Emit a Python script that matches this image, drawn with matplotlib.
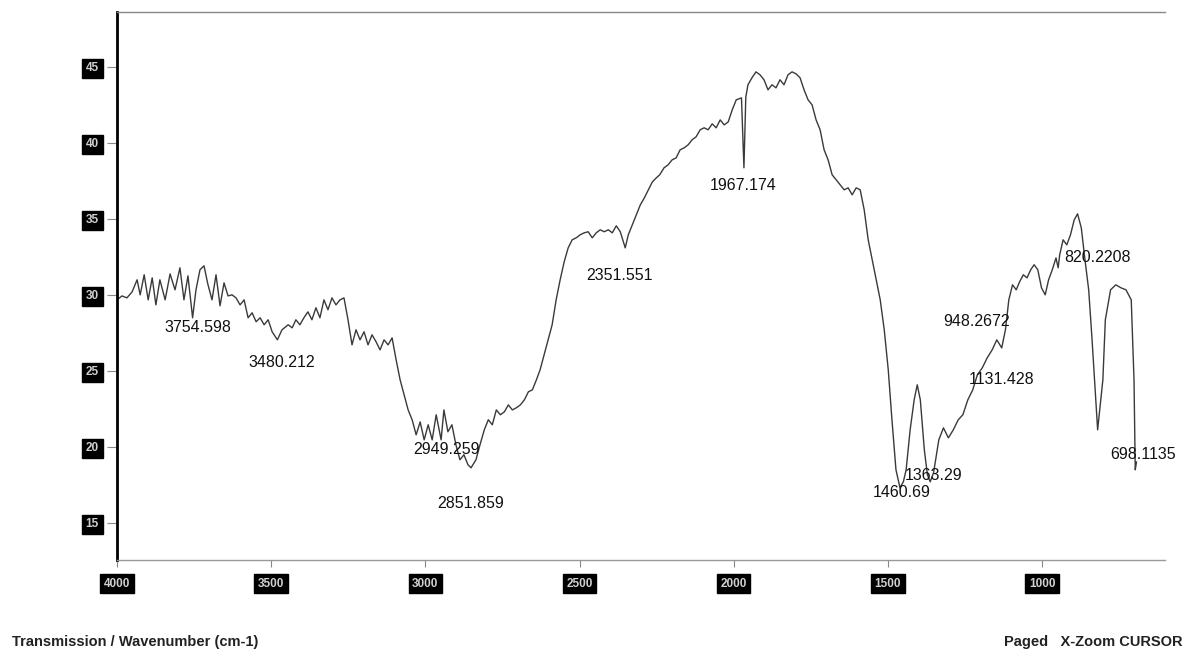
import matplotlib
matplotlib.use("Agg")
import matplotlib.pyplot as plt

# FTIR transmission spectrum (wavenumber in cm-1, transmission)
wavenumber = [
    4000, 3984, 3968, 3951, 3935, 3925, 3912, 3899, 3886, 3874, 3861, 3844,
    3828, 3812, 3796, 3783, 3770, 3755, 3744, 3731, 3718, 3705, 3692, 3679,
    3666, 3653, 3640, 3627, 3614, 3601, 3588, 3575, 3562, 3549, 3536, 3523,
    3510, 3497, 3480, 3465, 3445, 3432, 3420, 3407, 3394, 3381, 3368, 3355,
    3342, 3329, 3316, 3303, 3290, 3277, 3264, 3251, 3238, 3225, 3212, 3199,
    3186, 3173, 3160, 3147, 3134, 3121, 3108, 3095, 3082, 3069, 3056, 3043,
    3030, 3017, 3004, 2991, 2978, 2965, 2949, 2940, 2927, 2914, 2901, 2888,
    2875, 2862, 2852, 2836, 2823, 2809, 2796, 2783, 2770, 2757, 2744, 2731,
    2718, 2705, 2692, 2679, 2666, 2653, 2640, 2628, 2615, 2602, 2589, 2576,
    2563, 2550, 2537, 2524, 2511, 2498, 2485, 2472, 2459, 2446, 2433, 2420,
    2407, 2394, 2381, 2368, 2352, 2342, 2329, 2316, 2303, 2290, 2277, 2264,
    2251, 2240, 2226, 2213, 2200, 2187, 2174, 2161, 2148, 2135, 2122, 2109,
    2096, 2083, 2070, 2057, 2044, 2031, 2018, 2005, 1992, 1975, 1967, 1961,
    1954, 1941, 1928, 1915, 1902, 1889, 1876, 1863, 1850, 1837, 1824, 1811,
    1798, 1785, 1772, 1759, 1746, 1733, 1720, 1707, 1694, 1681, 1668, 1655,
    1642, 1629, 1616, 1603, 1590, 1577, 1564, 1551, 1538, 1525, 1512, 1499,
    1487, 1474, 1461, 1450, 1441, 1428, 1415, 1405, 1395, 1382, 1372, 1363,
    1352, 1335, 1320, 1304, 1288, 1272, 1257, 1241, 1225, 1210, 1194, 1178,
    1162, 1147, 1131, 1119, 1108, 1096, 1084, 1073, 1061, 1049, 1037, 1026,
    1014, 1002, 990, 979, 967, 955, 948, 943, 932, 920, 908, 896,
    885, 873, 861, 849, 838, 826, 820, 803, 795, 778, 761, 744,
    728, 711, 702, 698, 694,
]
transmission = [
    29.67, 29.93, 29.80, 30.20, 30.99, 30.00, 31.32, 29.67, 31.12, 29.34, 30.99, 29.67,
    31.38, 30.33, 31.78, 29.67, 31.25, 28.49, 30.33, 31.65, 31.91, 30.66, 29.67, 31.32,
    29.28, 30.79, 29.93, 30.00, 29.80, 29.34, 29.67, 28.49, 28.82, 28.23, 28.49, 28.03,
    28.36, 27.57, 27.04, 27.70, 28.03, 27.83, 28.36, 28.03, 28.49, 28.88, 28.36, 29.15,
    28.49, 29.67, 29.02, 29.80, 29.34, 29.67, 29.80, 28.36, 26.71, 27.70, 27.04, 27.57,
    26.71, 27.37, 26.91, 26.38, 27.04, 26.71, 27.17, 25.73, 24.41, 23.42, 22.43, 21.78,
    20.79, 21.64, 20.46, 21.45, 20.46, 22.11, 20.46, 22.43, 20.99, 21.45, 20.13, 19.15,
    19.48, 18.82, 18.62, 19.15, 20.13, 21.12, 21.78, 21.45, 22.43, 22.11, 22.30, 22.76,
    22.43, 22.57, 22.76, 23.09, 23.62, 23.75, 24.41, 25.07, 26.05, 27.04, 28.03, 29.67,
    30.99, 32.17, 33.09, 33.62, 33.75, 33.95, 34.08, 34.15, 33.75, 34.08, 34.28, 34.15,
    34.28, 34.08, 34.54, 34.15, 33.09, 33.95, 34.61, 35.26, 35.92, 36.38, 36.91, 37.43,
    37.70, 37.90, 38.36, 38.55, 38.88, 39.01, 39.54, 39.67, 39.87, 40.20, 40.40, 40.86,
    40.99, 40.86, 41.25, 40.99, 41.51, 41.18, 41.38, 42.17, 42.83, 42.96, 38.36, 43.00,
    43.82, 44.28, 44.67, 44.48, 44.15, 43.49, 43.82, 43.62, 44.15, 43.82, 44.48, 44.67,
    44.54, 44.28, 43.49, 42.83, 42.50, 41.51, 40.86, 39.54, 38.88, 37.90, 37.57, 37.24,
    36.91, 37.04, 36.58, 37.04, 36.91, 35.59, 33.62, 32.30, 30.99, 29.67, 27.70, 25.07,
    21.78, 18.49, 17.31, 17.70, 18.49, 21.12, 23.09, 24.08, 23.09, 19.80, 18.16, 17.70,
    18.30, 20.46, 21.25, 20.59, 21.12, 21.78, 22.11, 23.09, 23.75, 24.74, 25.20, 25.86,
    26.38, 27.04, 26.51, 27.70, 29.67, 30.66, 30.33, 30.86, 31.32, 31.12, 31.65, 31.98,
    31.65, 30.46, 30.00, 30.99, 31.65, 32.43, 31.78, 32.63, 33.62, 33.29, 33.95, 34.93,
    35.33, 34.41, 32.30, 30.33, 27.04, 23.09, 21.12, 24.41, 28.36, 30.33, 30.66, 30.46,
    30.33, 29.67, 24.41, 18.49, 19.00,
]

# Picked peaks: label text and label position (wavenumber, transmission)
peak_labels = ["3754.598", "3480.212", "2949.259", "2851.859", "2351.551", "1967.174",
               "1460.69", "1363.29", "1131.428", "948.2672", "820.2208", "698.1135"]
label_wn = [3737, 3465, 2930, 2852, 2369, 1970, 1454, 1352, 1130, 1211, 819, 672]
label_t = [27.83, 25.53, 19.80, 16.25, 31.25, 37.17, 16.97, 18.10, 24.41, 28.23, 32.43, 19.48]

x_ticks = [4000, 3500, 3000, 2500, 2000, 1500, 1000]
y_ticks = [45, 40, 35, 30, 25, 20, 15]

plt.rcParams["font.family"] = ["Liberation Sans", "DejaVu Sans"]

fig = plt.figure(figsize=(11.87, 6.57), dpi=100)
ax = fig.add_axes([0.0986, 0.148, 0.883, 0.834])

ax.plot(wavenumber, transmission, color="#3a3a3a", lw=1.0)

for txt, xw, yt in zip(peak_labels, label_wn, label_t):
    ax.text(xw, yt, txt, ha="center", va="center", fontsize=11.5, color="#111111")

ax.set_xlim(4000, 601)
ax.set_ylim(12.57, 48.62)

ax.set_xticks(x_ticks)
ax.set_xticklabels([str(v) for v in x_ticks])
ax.set_yticks(y_ticks)
ax.set_yticklabels([str(v) for v in y_ticks])

box = dict(boxstyle="square,pad=0.3", fc="black", ec="black")
for lab in ax.get_xticklabels():
    lab.set_fontsize(8.5)
    lab.set_fontweight("bold")
    lab.set_color("#d0d0d0")
    lab.set_bbox(box)
for lab in ax.get_yticklabels():
    lab.set_fontsize(8.5)
    lab.set_fontweight("bold")
    lab.set_color("#d0d0d0")
    lab.set_bbox(dict(boxstyle="square,pad=0.3", fc="black", ec="black"))

ax.tick_params(axis="x", direction="out", length=5, width=0.8, color="#888888", pad=8)
ax.tick_params(axis="y", direction="out", length=7, width=0.8, color="#888888", pad=6)

ax.spines["left"].set_color("black")
ax.spines["left"].set_linewidth(2.0)
ax.spines["right"].set_visible(False)
ax.spines["top"].set_color("#888888")
ax.spines["top"].set_linewidth(1.0)
ax.spines["bottom"].set_color("#999999")
ax.spines["bottom"].set_linewidth(1.0)
ax.spines["bottom"].set_linestyle((0, (6, 1)))

fig.text(0.010, 0.012, "Transmission / Wavenumber (cm-1)", fontsize=10.5,
         fontweight="bold", color="#222222", ha="left", va="bottom")
fig.text(0.996, 0.012, "Paged   X-Zoom CURSOR", fontsize=10.5,
         fontweight="bold", color="#222222", ha="right", va="bottom")

fig.savefig("out.png", dpi=100, facecolor="white")
